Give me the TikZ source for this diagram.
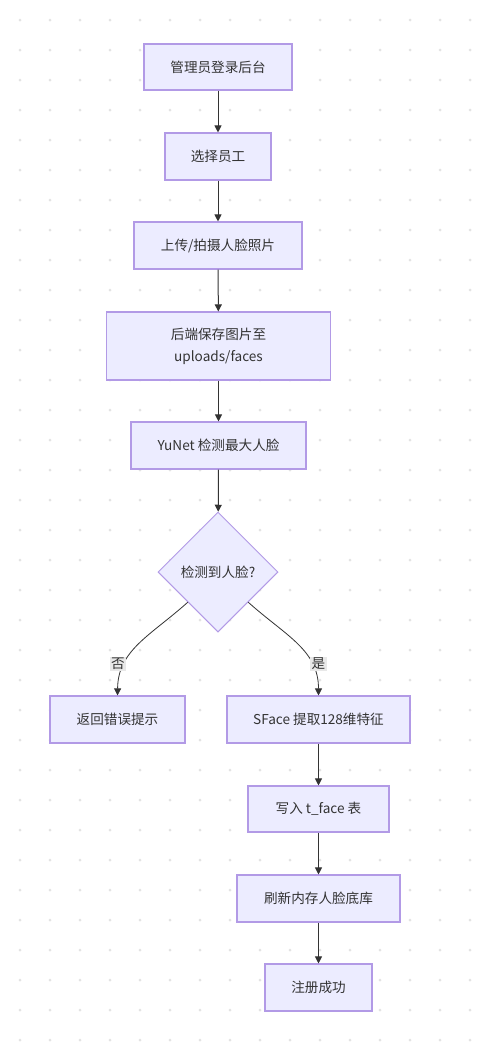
\documentclass[tikz,border=0pt]{standalone}
\usepackage{fontspec}
\setmainfont{Noto Sans CJK SC}
\usetikzlibrary{shapes.geometric,arrows.meta}
\definecolor{boxfill}{HTML}{ECECFF}
\definecolor{boxdraw}{HTML}{B29AE6}
\definecolor{ink}{HTML}{333333}
\definecolor{dotc}{HTML}{E3E3E3}
\definecolor{lblbg}{HTML}{E8E8E8}
\begin{document}
\begin{tikzpicture}[x=1pt,y=-1pt,
  every node/.style={font=\fontsize{13.6}{22}\selectfont, text=ink},
  procbox/.style={draw=boxdraw, fill=boxfill, line width=1.1pt, rectangle, inner sep=0pt, align=center},
  decbox/.style={draw=boxdraw, fill=boxfill, line width=1pt, diamond, aspect=1, inner sep=0pt, minimum width=120pt, minimum height=120pt},
  flow/.style={draw=ink, line width=1pt, -{Triangle[length=7pt,width=7pt]}},
  curvy/.style={draw=ink, line width=0.8pt, -{Triangle[length=7pt,width=7pt]}},
  elabel/.style={fill=lblbg, inner sep=1.5pt, font=\fontsize{13.6}{16}\selectfont}]
\fill[white] (0,0) rectangle (478,1047);
\useasboundingbox (0,0) rectangle (478,1047);
\foreach \i in {0,...,15} {
  \foreach \j in {0,...,34} {
    \fill[dotc] (20+30*\i, 20+30*\j) circle (1.5pt);
  }
}
\node[procbox, minimum width=148pt, minimum height=46pt] (n1) at (218,67) {管理员登录后台};
\node[procbox, minimum width=106pt, minimum height=47pt] (n2) at (218,156.5) {选择员工};
\node[procbox, minimum width=168pt, minimum height=47pt] (n3) at (218,245.5) {上传/拍摄人脸照片};
\node[procbox, minimum width=224pt, minimum height=68pt] (n4) at (218.5,346) {后端保存图片至\\uploads/faces};
\node[procbox, minimum width=175pt, minimum height=47pt] (n5) at (218.5,445.5) {YuNet 检测最大人脸};
\node[decbox] (d) at (218,572) {检测到人脸?};
\node[procbox, minimum width=135pt, minimum height=47pt] (n7) at (117.5,719.5) {返回错误提示};
\node[procbox, minimum width=183pt, minimum height=47pt] (n8) at (318.5,719.5) {SFace 提取128维特征};
\node[procbox, minimum width=141pt, minimum height=46pt] (n9) at (318.5,809) {写入 t\_face 表};
\node[procbox, minimum width=163pt, minimum height=47pt] (n10) at (318.5,898.5) {刷新内存人脸底库};
\node[procbox, minimum width=107pt, minimum height=47pt] (n11) at (318.5,987.5) {注册成功};
\draw[flow] (n1) -- (n2);
\draw[flow] (n2) -- (n3);
\draw[flow] (n3) -- (n4);
\draw[flow] (n4) -- (n5);
\draw[flow] (n5) -- (d);
\draw[flow] (n8) -- (n9);
\draw[flow] (n9) -- (n10);
\draw[flow] (n10) -- (n11);
\draw[curvy] (d.south west) .. controls (150,636) and (118,650) .. (n7.north);
\draw[curvy] (d.south east) .. controls (286,636) and (318.5,650) .. (n8.north);
\node[elabel] (lno) at (118,664) {否};
\node[elabel] (lyes) at (318.5,664) {是};
\end{tikzpicture}
\end{document}
